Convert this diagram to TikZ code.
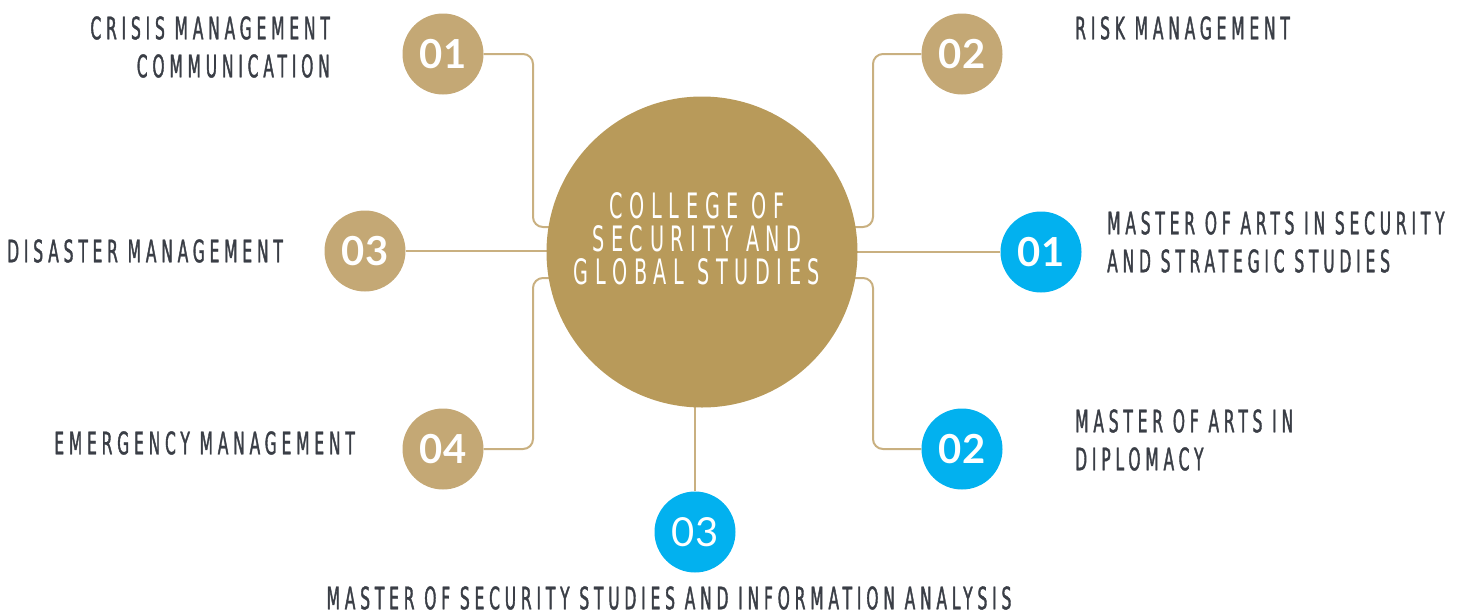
\documentclass[tikz,border=0pt]{standalone}
\usepackage{fontspec}
\usepackage{xcolor}
\usetikzlibrary{positioning,backgrounds}
\newfontfamily\labelfont[FakeStretch=0.5,FakeBold=1.2,LetterSpace=15.5]{DejaVu Sans}
\newfontfamily\hubfont[FakeStretch=0.55,LetterSpace=19]{DejaVu Sans}
\newfontfamily\numfont{Lato}
\definecolor{hubgold}{RGB}{184,154,90}
\definecolor{dotgold}{RGB}{196,168,117}
\definecolor{dotblue}{RGB}{2,177,239}
\definecolor{linkgold}{RGB}{201,176,128}
\definecolor{labelgray}{RGB}{58,62,70}

\begin{document}
\begin{tikzpicture}[x=1pt,y=-1pt,
	hub/.style={circle,fill=hubgold,minimum size=311pt,inner sep=0pt},
	golddot/.style={circle,fill=dotgold,minimum size=81pt,inner sep=0pt,text=white,font=\numfont\bfseries\fontsize{40}{40}\selectfont},
	bluedot/.style={golddot,fill=dotblue},
	link/.style={draw=linkgold,line width=2pt,rounded corners=10pt},
	topic/.style={inner sep=0pt,text=labelgray,font=\labelfont\fontsize{31}{38}\selectfont}]
	\useasboundingbox (0,0) rectangle (1467,614);
	
	%Shape: Circle [hub]
	\node[hub] (hub) at (702,252) {};
	% Text Node
	\node[inner sep=0pt,text=white,align=center,font=\hubfont\fontsize{35}{33}\selectfont] (hubtext) at (697,239) {COLLEGE OF\\SECURITY AND\\GLOBAL STUDIES};
	
	%Shape: Circle [numbers]
	\node[golddot] (d1) at (443,54) {01};
	\node[golddot] (d2) at (962,54) {02};
	\node[golddot] (d3) at (365,251) {03};
	\node[golddot] (d4) at (443,449) {04};
	\node[bluedot] (b1) at (1041,252) {01};
	\node[bluedot] (b2) at (962,449) {02};
	\node[bluedot,font=\numfont\fontsize{40}{40}\selectfont] (b3) at (695,532) {03};
	
	% Text Node
	\node[topic,anchor=east,align=right] (t1) at (330,47) {CRISIS MANAGEMENT\\COMMUNICATION};
	% Text Node
	\node[topic,anchor=west] (t2) at (1075,28) {RISK MANAGEMENT};
	% Text Node
	\node[topic,anchor=west] (t3) at (7,251) {DISASTER MANAGEMENT};
	% Text Node
	\node[topic,anchor=west,align=left] (t4) at (1107,242) {MASTER OF ARTS IN SECURITY\\AND STRATEGIC STUDIES};
	% Text Node
	\node[topic,anchor=east] (t5) at (355,443) {EMERGENCY MANAGEMENT};
	% Text Node
	\node[topic,anchor=west,align=left] (t6) at (1075,440) {MASTER OF ARTS IN\\DIPLOMACY};
	% Text Node
	\node[topic] (t7) at (669,598) {MASTER OF SECURITY STUDIES AND INFORMATION ANALYSIS};
	
	%Straight Lines [links]
	\begin{scope}[on background layer]
		\coordinate (k1) at (533,227);
		\coordinate (k2) at (873,227);
		\coordinate (k4) at (533,278);
		\coordinate (k5) at (873,278);
		\draw[link] (d1) -| (k1) -- (k1 -| hub);
		\draw[link] (d2) -| (k2) -- (k2 -| hub);
		\draw[link] (d3) -- (d3 -| hub);
		\draw[link] (b1) -- (b1 -| hub);
		\draw[link] (d4) -| (k4) -- (k4 -| hub);
		\draw[link] (b2) -| (k5) -- (k5 -| hub);
		\draw[link] (b3) -- (b3 |- hub);
	\end{scope}
\end{tikzpicture}
\end{document}
